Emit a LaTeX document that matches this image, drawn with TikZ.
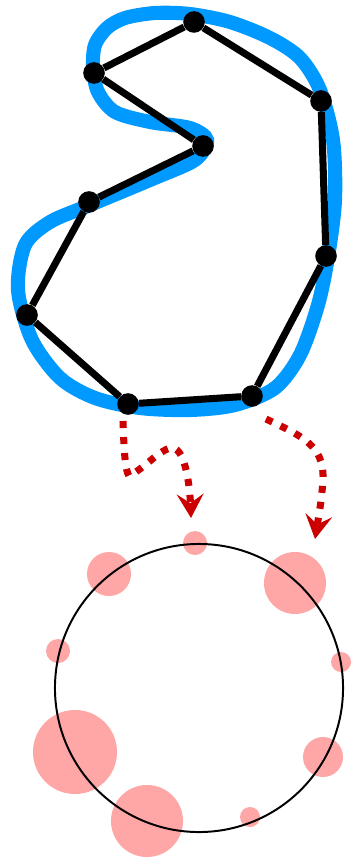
\documentclass[tikz,border=0pt]{standalone}
\usepackage{tikz}
\usetikzlibrary{arrows.meta}
\definecolor{hullblue}{RGB}{0,153,255}
\definecolor{flowred}{RGB}{204,0,0}
\definecolor{blobpink}{RGB}{255,166,166}

\begin{document}
\begin{tikzpicture}[
    x=0.025cm, y=-0.025cm,
    vertex/.style={circle, fill=black, inner sep=0pt, minimum size=0.54cm},
    edge/.style={line width=5pt},
    hull/.style={line width=10pt, draw=hullblue},
    flow/.style={line width=5pt, draw=flowred, dash pattern=on 5pt off 6.4pt, -{Stealth[length=17pt, width=19pt, inset=6.5pt]}},
    blob/.style={circle, fill=blobpink, inner sep=0pt},
    ring/.style={circle, draw, line width=1.4pt, inner sep=0pt, minimum size=7.2cm}
]
\useasboundingbox (0,0) rectangle (356,865);
% smooth hull round the polygon
\draw[hull] plot[smooth cycle] coordinates {
    (95,45) (107,28) (125,18) (155,13) (190,14) (230,22) (270,38)
    (300,58) (320,90) (333,140) (335,200) (328,257) (318,305)
    (300,355) (275,388) (235,405) (190,410) (140,408) (95,398)
    (60,378) (32,340) (18,290) (25,245) (50,222) (90,205) (150,180)
    (195,160) (207,140) (190,128) (150,122) (115,112) (98,92) (93,68)};
% polygon
\node[vertex] (v1) at (194,22) {};
\node[vertex] (v2) at (94,73) {};
\node[vertex] (v3) at (203,146) {};
\node[vertex] (v4) at (89,202) {};
\node[vertex] (v5) at (27,315) {};
\node[vertex] (v6) at (128,404) {};
\node[vertex] (v7) at (252,396) {};
\node[vertex] (v8) at (326,256) {};
\node[vertex] (v9) at (321,101) {};
\draw[edge] (v1) -- (v2);
\draw[edge] (v2) -- (v3);
\draw[edge] (v3) -- (v4);
\draw[edge] (v4) -- (v5);
\draw[edge] (v5) -- (v6);
\draw[edge] (v6) -- (v7);
\draw[edge] (v7) -- (v8);
\draw[edge] (v8) -- (v9);
\draw[edge] (v9) -- (v1);
% arrows down to the circle
\coordinate (a1s) at (123,421);
\coordinate (a1e) at (191,518);
\coordinate (a2s) at (266,419);
\coordinate (a2e) at (315,539);
\draw[flow] (a1s) .. controls (124,450) and (125,470) .. (129,476)
    .. controls (145,468) and (162,447) .. (173,448)
    .. controls (186,450) and (190,490) .. (a1e);
\draw[flow] (a2s) .. controls (300,435) and (324,445) .. (323,478)
    .. controls (322,500) and (318,520) .. (a2e);
% circle with blobs
\node[blob, minimum size=0.6cm] (b1) at (195,543) {};
\node[blob, minimum size=1.1cm] (b2) at (109,574) {};
\node[blob, minimum size=1.55cm] (b3) at (295,583) {};
\node[blob, minimum size=0.6cm] (b4) at (58,651) {};
\node[blob, minimum size=0.5cm] (b5) at (341,662) {};
\node[blob, minimum size=2.1cm] (b6) at (75,752) {};
\node[blob, minimum size=1.0cm] (b7) at (323,757) {};
\node[blob, minimum size=1.8cm] (b8) at (147,821) {};
\node[blob, minimum size=0.5cm] (b9) at (250,817) {};
\node[ring] (ring) at (199,688) {};
\end{tikzpicture}
\end{document}
